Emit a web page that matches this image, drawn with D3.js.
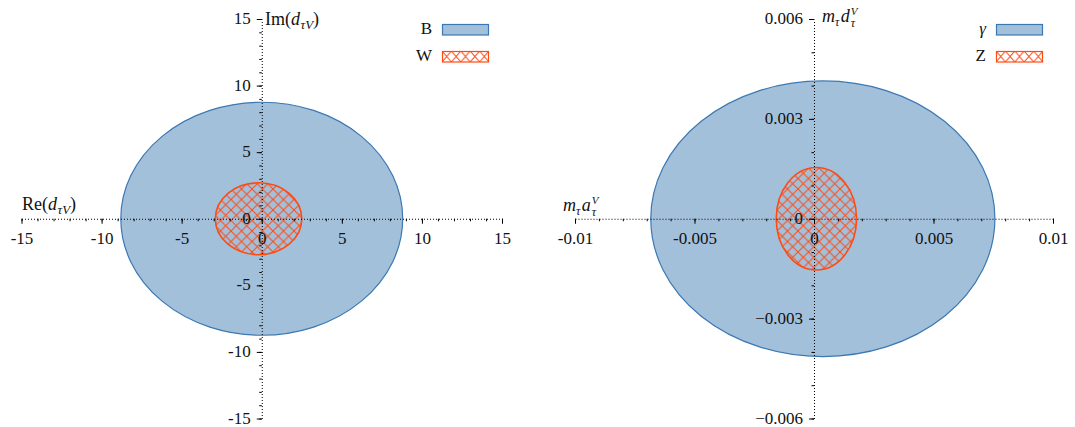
<!DOCTYPE html>
<html><head><meta charset="utf-8">
<script src="https://cdn.jsdelivr.net/npm/d3@7"></script>
<style>
html,body{margin:0;padding:0;background:#fff;}
svg text{font-family:"Liberation Serif","DejaVu Serif",serif !important;fill:#111;}
</style></head>
<body><svg id="c" width="1075" height="427"></svg>
<script>
// ---- data ----
const leftSeries = ["B", "W"];
const leftCenterX = [0, -0.2];
const leftCenterY = [0, 0];
const leftRadiusX = [8.8, 2.7];
const leftRadiusY = [8.75, 2.7];
const leftTicks = [-15, -10, -5, 0, 5, 10, 15];

const rightSeries = ["γ", "Z"];
const rightCenterX = [0.00037, 0.0001];
const rightCenterY = [0, 0];
const rightRadiusX = [0.0072, 0.00168];
const rightRadiusY = [0.00414, 0.00154];
const rightXTicks = [-0.01, -0.005, 0, 0.005, 0.01];
const rightYTicks = [-0.006, -0.003, 0, 0.003, 0.006];

const SERIF = '"Liberation Serif", "DejaVu Serif", serif';
const svg = d3.select("#c");
const defs = svg.append("defs");
const HATCH = "#ff4a12";
const p = defs.append("pattern").attr("id","hatch").attr("patternUnits","userSpaceOnUse")
  .attr("width",10.5).attr("height",10.5);
p.append("path").attr("d","M0,0L10.5,10.5M10.5,0L0,10.5M-1,9.5L1,11.5M9.5,-1L11.5,1")
  .attr("stroke",HATCH).attr("stroke-width",1).attr("fill","none");
const p2 = defs.append("pattern").attr("id","hatchL").attr("patternUnits","userSpaceOnUse")
  .attr("width",9.4).attr("height",11).attr("x",442).attr("y",51);
p2.append("path").attr("d","M0,0L9.4,11M9.4,0L0,11")
  .attr("stroke",HATCH).attr("stroke-width",1).attr("fill","none");
const p3 = defs.append("pattern").attr("id","hatchR").attr("patternUnits","userSpaceOnUse")
  .attr("width",9.4).attr("height",11).attr("x",996).attr("y",51);
p3.append("path").attr("d","M0,0L9.4,11M9.4,0L0,11")
  .attr("stroke",HATCH).attr("stroke-width",1).attr("fill","none");

const BLUE_FILL = "#a3c0da", BLUE_STROKE = "#3b78b2";
const styles = [
  {fill: BLUE_FILL, stroke: BLUE_STROKE, sw: 1.2},
  {fill: "url(#hatch)", stroke: HATCH, sw: 1.6}
];

function panel(cfg){
  const g = svg.append("g");
  const x = d3.scaleLinear().domain(cfg.xd).range(cfg.xr);
  const y = d3.scaleLinear().domain(cfg.yd).range([418.5, 19]);
  cfg.series.forEach((s,i)=>{
    const cx = x(cfg.cx[i]), cy = y(cfg.cy[i]);
    g.append("ellipse").attr("cx",cx).attr("cy",cy)
      .attr("rx", x(cfg.cx[i]+cfg.rx[i]) - cx)
      .attr("ry", cy - y(cfg.cy[i]+cfg.ry[i]))
      .attr("fill", styles[i].fill).attr("stroke", styles[i].stroke)
      .attr("stroke-width", styles[i].sw);
  });
  const y0 = y(0), x0 = x(0);
  g.append("g").attr("transform",`translate(0,${y0})`)
    .call(d3.axisBottom(x).tickValues(cfg.xminor).tickFormat("").tickSize(2.5).tickSizeOuter(0))
    .call(a=>a.select(".domain").remove());
  g.append("g").attr("transform",`translate(${x0},0)`)
    .call(d3.axisLeft(y).tickValues(cfg.yminor).tickFormat("").tickSize(2.5).tickSizeOuter(0))
    .call(a=>a.select(".domain").remove());
  const ax = g.append("g").attr("transform",`translate(0,${y0})`)
    .call(d3.axisBottom(x).tickValues(cfg.xt).tickFormat(cfg.fmtX).tickSize(5).tickPadding(8).tickSizeOuter(0));
  const ay = g.append("g").attr("transform",`translate(${x0},0)`)
    .call(d3.axisLeft(y).tickValues(cfg.yt).tickFormat(cfg.fmtY).tickSize(5).tickPadding(6).tickSizeOuter(0));
  [ax, ay].forEach(a=>{
    a.attr("font-family", SERIF);
    a.select(".domain").attr("stroke","#000").attr("stroke-width",1).attr("stroke-dasharray","1,2");
    a.selectAll(".tick text").attr("font-size",17).style("font-family", SERIF).attr("fill","#111");
  });
  ay.selectAll(".tick text").attr("dy","0.27em");
  g.selectAll(".tick line").attr("stroke","#000");
  cfg.series.forEach((s,i)=>{
    const ly = 24 + i*27;
    g.append("text").attr("x", cfg.legX-10).attr("y", ly+10).attr("text-anchor","end")
      .attr("font-size",17).style("font-family", SERIF)
      .attr("font-style", i===0 && cfg.italic0 ? "italic" : "normal").text(s);
    g.append("rect").attr("x", cfg.legX+0.5).attr("y", ly+0.5).attr("width",46).attr("height",10.5)
      .attr("fill", i===0 ? BLUE_FILL : cfg.legHatch).attr("stroke", styles[i].stroke).attr("stroke-width", 1.2);
  });
  return {g,x,y};
}

function fmtHy(d){ return d<0 ? "-"+Math.abs(d) : String(d); }
function fmtMinus(d){ return d<0 ? "\u2212"+Math.abs(d) : String(d); }

panel({
  series: leftSeries, cx: leftCenterX, cy: leftCenterY, rx: leftRadiusX, ry: leftRadiusY,
  xd: [-15,15], xr: [21.5,502], yd: [-15,15],
  xt: leftTicks, yt: leftTicks, xminor: d3.range(-15,15.5,1), yminor: d3.range(-15,15.5,1),
  fmtX: fmtHy, fmtY: fmtHy, legX: 442, legHatch: "url(#hatchL)", italic0: false
});
panel({
  series: rightSeries, cx: rightCenterX, cy: rightCenterY, rx: rightRadiusX, ry: rightRadiusY,
  xd: [-0.01,0.01], xr: [575,1053], yd: [-0.006,0.006],
  xt: rightXTicks, yt: rightYTicks,
  xminor: d3.range(-10,10.5,1).map(v=>v/1000), yminor: d3.range(-6,6.5,1).map(v=>v/1000),
  fmtX: fmtHy, fmtY: fmtMinus, legX: 996, legHatch: "url(#hatchR)", italic0: true
});

// math labels: each piece its own text element, laid out by measured width
function mathLabel(x, y, parts){
  const g = svg.append("g");
  let cx = x;
  parts.forEach(p=>{
    const t = g.append("text").attr("x", cx + (p.dx||0)).attr("y", y + (p.dy||0))
      .attr("font-size", p.s || 18).style("font-family", SERIF)
      .attr("font-style", p.i ? "italic" : "normal").text(p.t);
    const w = t.node().getComputedTextLength();
    if(!p.stack) cx += w + (p.dx||0) + (p.gap||0);
  });
}
mathLabel(265, 25, [{t:"Im("},{t:"d",i:1,gap:0.5},{t:"τV",i:1,s:13,dy:4},{t:")"}]);
mathLabel(22, 210, [{t:"Re("},{t:"d",i:1,gap:0.5},{t:"τV",i:1,s:13,dy:4},{t:")"}]);
mathLabel(822, 22, [{t:"m",i:1},{t:"τ",i:1,s:12,dy:4,gap:1.5},{t:"d",i:1,gap:1},{t:"V",i:1,s:11,dy:-7,stack:1},{t:"τ",i:1,s:12,dy:5}]);
mathLabel(563, 211, [{t:"m",i:1},{t:"τ",i:1,s:12,dy:4,gap:1.5},{t:"a",i:1,gap:1},{t:"V",i:1,s:11,dy:-7,stack:1},{t:"τ",i:1,s:12,dy:5}]);
</script></body></html>
